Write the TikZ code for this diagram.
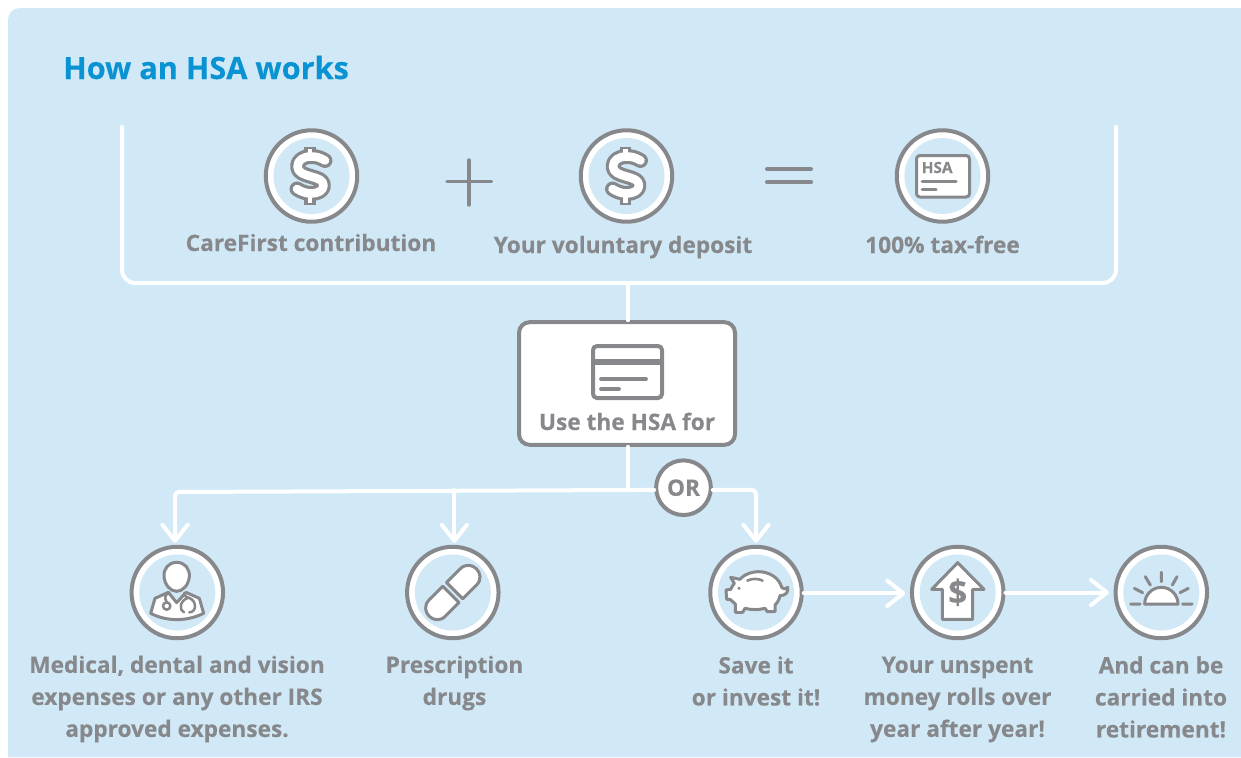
\documentclass[tikz,border=0pt]{standalone}
\usepackage{fontspec}
\setmainfont[BoldFeatures={FakeBold=0.25}]{Open Sans}
\usetikzlibrary{arrows.meta}
\definecolor{panelblue}{HTML}{D1E8F6}
\definecolor{icongray}{HTML}{86888B}
\definecolor{titleblue}{HTML}{0993D3}
\tikzset{
  x=0.75pt,y=-0.75pt,
  ring/.style={circle,draw=icongray,fill=white,line width=3pt,minimum size=68.6pt,inner sep=0pt},
  orring/.style={circle,draw=icongray,fill=white,line width=3pt,minimum size=41pt,inner sep=0pt,text=icongray,font=\fontsize{17pt}{20pt}\bfseries},
  usebox/.style={rectangle,rounded corners=8pt,draw=icongray,fill=white,line width=3pt,minimum width=162pt,minimum height=92pt,inner sep=0pt},
  wline/.style={draw=white,line width=3pt,line cap=round,line join=round},
  warrow/.style={wline,-{Straight Barb[length=12pt,width=19pt,round]}},
  label/.style={text=icongray,font=\fontsize{17pt}{24pt}\bfseries,align=center,inner sep=0pt},
  stroke/.style={draw=icongray,line width=2.25pt,line cap=round,line join=round},
  iconfill/.style={stroke,fill=white},
}
\newcommand{\dollarpath}{(14,-15) .. controls (9,-18) and (5,-19) .. (0,-19) .. controls (-8,-19) and (-13.5,-15) .. (-13.5,-9) .. controls (-13.5,-3) and (-7,-1) .. (0,1) .. controls (7,3) and (12.5,4.5) .. (12.5,10) .. controls (12.5,15) and (7,18) .. (0,18) .. controls (-5,18) and (-10,16) .. (-14,13.5)}
\newcommand{\dollaricon}[1]{%
  \begin{scope}[shift={(#1)}]
    \draw[icongray,line width=11.2pt,line cap=round,line join=round] \dollarpath;
    \draw[icongray,line width=8.5pt,line cap=butt] (-1,-29) -- (-1,-19) (-1,19) -- (-1,29.5);
    \draw[white,line width=6.4pt,line cap=round,line join=round] \dollarpath;
    \draw[white,line width=3.6pt,line cap=butt] (-1,-26.5) -- (-1,-17) (-1,17) -- (-1,27);
  \end{scope}}
\begin{document}
\begin{tikzpicture}
\useasboundingbox (0,0) rectangle (1241,757);
\fill[white] (0,0) rectangle (1241,757);
\fill[panelblue] (8,20) .. controls (8,13) and (13,8) .. (20,8) -- (1241,8) -- (1241,757) -- (8,757) -- cycle;

\node[anchor=base west,inner sep=0pt,text=titleblue,font=\fontsize{23pt}{28pt}\bfseries] (title) at (63,79) {How an HSA works};

% rings
\node[ring] (care) at (311.5,176) {};
\node[ring] (vol) at (626.5,176) {};
\node[ring] (tax) at (942.5,176) {};
\node[ring] (doc) at (177.3,592.5) {};
\node[ring] (pill) at (452.8,592.5) {};
\node[ring] (pig) at (756,592.5) {};
\node[ring] (roll) at (957.7,592.5) {};
\node[ring] (sun) at (1161.3,592.5) {};
\foreach \n in {care,vol,tax,doc,pill,pig,roll,sun}
  \fill[panelblue] (\n.center) circle[radius=38];

% labels
\node[label,anchor=base] (lcare) at (311,251) {CareFirst contribution};
\node[label,anchor=base] (lvol) at (623,253) {Your voluntary deposit};
\node[label,anchor=base] (ltax) at (942.5,253) {100\% tax-free};
\node[label] (ldoc) at (177,699) {Medical, dental and vision\\expenses or any other IRS\\approved expenses.};
\node[label] (lpill) at (454.5,683) {Prescription\\drugs};
\node[label] (lpig) at (756,681) {Save it\\or invest it!};
\node[label] (lroll) at (957.5,699.5) {Your unspent\\money rolls over\\year after year!};
\node[label] (lsun) at (1161,697) {And can be\\carried into\\retirement!};

% plus and equals
\draw[stroke,line width=2.6pt] (447,181.7) -- (491.5,181.7) (469,160) -- (469,205);
\draw[stroke,line width=3pt] (767,169) -- (811,169) (767,182.3) -- (811,182.3);

% dollars
\dollaricon{311,175.5}
\dollaricon{626.5,175.5}

% HSA card
\draw[iconfill,rounded corners=2.5pt] (916.5,155.5) rectangle (969.5,197);
\node[anchor=base west,inner sep=0pt,text=icongray,font=\fontsize{11.5pt}{14pt}\bfseries] (hsa) at (921.5,173) {HSA};
\draw[stroke] (922,181.8) -- (956,181.8) (922,189.3) -- (936,189.3);

% bracket and use box
\node[usebox] (use) at (627,383.5) {};
\node[label,anchor=base] (luse) at (627,430) {Use the HSA for};
\draw[stroke,line width=3pt,fill=none,rounded corners=3pt] (593,346) rectangle (662,398);
\draw[icongray,line width=3.8pt] (593,362) -- (662,362);
\draw[stroke,line width=2.8pt] (601,379) -- (646,379) (601,389) -- (619,389);

\coordinate (bl) at (122,127);
\coordinate (br) at (1116,127);
\coordinate (bmid) at (628,283);
\draw[wline,rounded corners=10pt] (bl) |- (bmid) -| (br);
\draw[wline] (bmid) -- (bmid |- use.north);

% branches
\node[orring] (or) at (683.5,487.7) {OR};
\coordinate (junction) at (628,490);
\coordinate (cornerA) at (175,492);
\draw[wline] (use.south -| junction) -- (junction);
\draw[wline] (junction) -- ([yshift=-1.7pt]or.west);
\draw[warrow,rounded corners=3pt] (junction) -- (cornerA) -- ([xshift=-1.7pt,yshift=1.5pt]doc.north);
\draw[warrow] ([xshift=1.2pt]pill.north |- junction) -- ([xshift=1.2pt,yshift=1.5pt]pill.north);
\draw[warrow,rounded corners=3pt] ([yshift=-1.7pt]or.east) -| ([yshift=1.5pt]pig.north);
\draw[warrow,shorten >=3.5pt] ([yshift=-0.6pt]pig.east) -- ([yshift=-0.6pt]roll.west);
\draw[warrow,shorten >=3.5pt] (roll.east) -- (sun.west);

% doctor
\begin{scope}[shift={(110,530)},scale=1/3]
  \draw[iconfill] (200,97) .. controls (225,97) and (240,117) .. (238,140) .. controls (236,165) and (218,184) .. (200,184) .. controls (182,184) and (164,165) .. (162,140) .. controls (160,117) and (175,97) .. (200,97) -- cycle;
  \draw[iconfill] (122,250) -- (135,205) -- (175,187) -- (200,218) -- (228,187) -- (268,205) -- (281,250) .. controls (230,275) and (170,275) .. (122,250) -- cycle;
  \draw[stroke,line width=1.9pt] (176,187) .. controls (165,195) and (163,205) .. (170,216);
  \draw[stroke,line width=1.9pt,fill=white] (170,228) circle[radius=11];
  \draw[stroke,line width=1.9pt] (222,190) .. controls (225,200) and (228,200) .. (236,203) .. controls (262,212) and (260,247) .. (238,247) (222,247) .. controls (205,240) and (210,210) .. (236,203);
\end{scope}

% pill
\begin{scope}[shift={(452.8,592.5)},rotate=45]
  \draw[iconfill] (-2.6,-11.5) -- (-22,-11.5) .. controls (-37.3,-11.5) and (-37.3,11.5) .. (-22,11.5) -- (-2.6,11.5) -- cycle;
  \draw[iconfill] (2.6,-11.5) -- (22,-11.5) .. controls (37.3,-11.5) and (37.3,11.5) .. (22,11.5) -- (2.6,11.5) -- cycle;
\end{scope}

% piggy
\begin{scope}[shift={(690,530)},scale=1/3]
  \draw[iconfill] (122,142) -- (150,148) .. controls (165,130) and (190,125) .. (205,125) .. controls (240,125) and (268,145) .. (275,172) .. controls (282,178) and (290,178) .. (293,172) .. controls (296,185) and (288,197) .. (270,197) .. controls (268,210) and (260,220) .. (255,225) -- (255,245) -- (232,245) -- (225,235) .. controls (205,240) and (185,240) .. (165,235) -- (158,247) -- (136,247) -- (136,222) .. controls (128,215) and (125,212) .. (120,208) -- (110,208) -- (108,180) -- (122,178) .. controls (125,170) and (130,165) .. (133,160) -- cycle;
  \fill[icongray] (147,175) circle[radius=5];
  \draw[stroke,line width=1.9pt] (172,152) .. controls (185,145) and (205,145) .. (218,152);
\end{scope}

% rollover arrow
\begin{scope}[shift={(690,530)},scale=1/3]
  \draw[iconfill] (803,98) -- (725,178) -- (757,178) -- (757,268) -- (848,268) -- (848,178) -- (882,178) -- cycle;
  \node[inner sep=0pt,text=icongray,font=\fontsize{25pt}{27pt}\bfseries] (rolldollar) at (803,187) {\$};
\end{scope}

% sun
\begin{scope}[shift={(1000,530)},scale=1/3]
  \draw[iconfill] (434,222) arc[start angle=180,end angle=360,radius=50] -- cycle;
  \draw[stroke] (484,127) -- (484,155) (436,140) -- (451,165) (531,140) -- (517,165) (403,175) -- (428,188) (565,175) -- (540,188) (392,222) -- (420,222) (548,222) -- (576,222);
\end{scope}
\end{tikzpicture}
\end{document}
